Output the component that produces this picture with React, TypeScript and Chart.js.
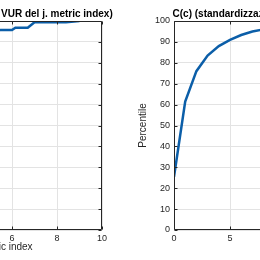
import React, { useEffect, useRef } from "react";
import { Chart, registerables } from "chart.js";
Chart.register(...registerables);

// ---- data ----
const leftX = [0, 0.5, 1, 1.5, 2, 3, 4, 5, 5.5, 6, 6.15, 6.7, 7.0, 8.4, 9];
const leftY = [40, 62, 74, 81, 86, 90, 93, 95.2, 95.7, 95.7, 96.8, 96.8, 99.4, 99.4, 100];
const rightX = [0, 1, 2, 3, 4, 5, 6, 7, 8, 9, 10, 11, 12, 13, 14, 15, 16, 17, 18, 19, 20];
const rightY = [25.5, 61.5, 76, 83.5, 88, 91, 93.3, 95, 96, 96.8, 97.4, 97.9, 98.3, 98.6, 98.9, 99.1, 99.3, 99.5, 99.7, 99.9, 100];
const leftXTicks = [0, 2, 4, 6, 8, 10];
const rightXTicks = [0, 5, 10, 15, 20];
const yTicks = [0, 10, 20, 30, 40, 50, 60, 70, 80, 90, 100];
const leftTitle = "CVUR(j) (standardizzazione VUR del j. metric index)";
const rightTitle = "C(c) (standardizzazione VUR del c. metric index)";
const leftXLabel = "Sorted metric index";
const yLabel = "Percentile";

const FONT = "'Liberation Sans', Arial, Helvetica, sans-serif";
const TEXT = "#262626";
const GRID = "#e3e3e3";
const LINE = "#0b5ea8";

type PanelCfg = {
  canvasLeft: number;
  canvasWidth: number;
  yAxisWidth: number;
  padRight: number;
  xs: number[];
  ys: number[];
  xMax: number;
  xTicks: number[];
  title: string;
  xLabel: string;
};

const boxPlugin = {
  id: "matlabBox",
  afterDraw(chart: any, _args: any, opts: any) {
    const { ctx, chartArea: a, scales } = chart;
    const L = Math.round(a.left) + 0.5;
    const R = Math.round(a.right) - 0.5;
    const T = Math.round(a.top) + 0.5;
    const B = Math.round(a.bottom) - 0.5;
    ctx.save();
    ctx.strokeStyle = TEXT;
    ctx.lineWidth = 1;
    ctx.beginPath();
    ctx.moveTo(L, T);
    ctx.lineTo(R, T);
    ctx.lineTo(R, B);
    ctx.lineTo(L, B);
    ctx.closePath();
    const tl = 3;
    for (const t of scales.x.ticks) {
      const px = Math.round(scales.x.getPixelForValue(t.value)) + 0.5;
      ctx.moveTo(px, B);
      ctx.lineTo(px, B - tl);
      ctx.moveTo(px, T);
      ctx.lineTo(px, T + tl);
    }
    for (const t of scales.y.ticks) {
      const py = Math.round(scales.y.getPixelForValue(t.value)) + 0.5;
      ctx.moveTo(L, py);
      ctx.lineTo(L + tl, py);
      ctx.moveTo(R, py);
      ctx.lineTo(R - tl, py);
    }
    ctx.stroke();
    ctx.fillStyle = "#000";
    ctx.font = `bold 10px ${FONT}`;
    ctx.textAlign = "center";
    ctx.textBaseline = "alphabetic";
    ctx.fillText(opts.text, (a.left + a.right) / 2 + 1, a.top - 4);
    ctx.restore();
  },
};

function Panel({ cfg }: { cfg: PanelCfg }) {
  const ref = useRef<HTMLCanvasElement | null>(null);
  useEffect(() => {
    if (!ref.current) return;
    const chart = new Chart(ref.current, {
      type: "scatter",
      data: {
        datasets: [
          {
            data: cfg.xs.map((x, i) => ({ x, y: cfg.ys[i] })),
            showLine: true,
            pointRadius: 0,
            borderColor: LINE,
            borderWidth: 2.5,
            tension: 0,
            fill: false,
          },
        ],
      },
      options: {
        responsive: false,
        animation: false,
        devicePixelRatio: 1,
        layout: { padding: { top: 21, right: cfg.padRight, left: 0, bottom: 0 }, autoPadding: false },
        plugins: {
          legend: { display: false },
          tooltip: { enabled: false },
          matlabBox: { text: cfg.title },
        } as any,
        scales: {
          x: {
            type: "linear",
            min: 0,
            max: cfg.xMax,
            afterBuildTicks: (s: any) => {
              s.ticks = cfg.xTicks.map((value) => ({ value }));
            },
            afterFit: (s: any) => {
              s.height = 30;
              s.paddingLeft = 0;
              s.paddingRight = 0;
            },
            grid: { color: GRID, drawTicks: false, lineWidth: 1 },
            border: { display: false },
            ticks: { color: TEXT, font: { family: FONT, size: 9 }, padding: 3, maxRotation: 0, autoSkip: false },
            title: {
              display: !!cfg.xLabel,
              text: cfg.xLabel,
              color: TEXT,
              font: { family: FONT, size: 10 },
              padding: { top: 0, bottom: 7 },
            },
          },
          y: {
            type: "linear",
            min: 0,
            max: 100,
            afterBuildTicks: (s: any) => {
              s.ticks = yTicks.map((value) => ({ value }));
            },
            afterFit: (s: any) => {
              s.width = cfg.yAxisWidth;
              s.paddingTop = 0;
              s.paddingBottom = 0;
            },
            grid: { color: GRID, drawTicks: false, lineWidth: 1 },
            border: { display: false },
            ticks: { color: TEXT, font: { family: FONT, size: 9 }, padding: 4, autoSkip: false },
            title: {
              display: true,
              text: yLabel,
              color: TEXT,
              font: { family: FONT, size: 10 },
              padding: { top: 7, bottom: 0 },
            },
          },
        },
      },
      plugins: [boxPlugin as any],
    });
    return () => chart.destroy();
  }, [cfg]);
  return (
    <canvas
      ref={ref}
      width={cfg.canvasWidth}
      height={260}
      style={{ position: "absolute", top: 0, left: cfg.canvasLeft, width: cfg.canvasWidth, height: 260 }}
    />
  );
}

const leftCfg: PanelCfg = {
  canvasLeft: -200,
  canvasWidth: 330,
  yAxisWidth: 77,
  padRight: 28,
  xs: leftX,
  ys: leftY,
  xMax: 10,
  xTicks: leftXTicks,
  title: leftTitle,
  xLabel: leftXLabel,
};

const rightCfg: PanelCfg = {
  canvasLeft: 130,
  canvasWidth: 330,
  yAxisWidth: 44,
  padRight: 62,
  xs: rightX,
  ys: rightY,
  xMax: 20,
  xTicks: rightXTicks,
  title: rightTitle,
  xLabel: "",
};

export default function App() {
  return (
    <div style={{ position: "fixed", left: 0, top: 0, width: 260, height: 260, overflow: "hidden", background: "#fff" }}>
      <Panel cfg={leftCfg} />
      <Panel cfg={rightCfg} />
    </div>
  );
}
